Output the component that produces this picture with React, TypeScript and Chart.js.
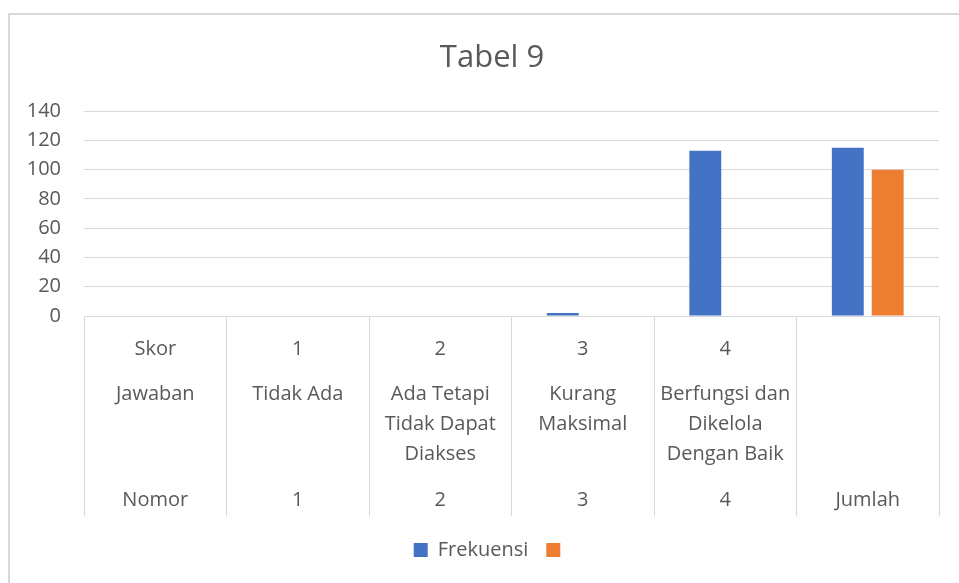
import React, { useEffect, useRef } from "react";
import { Chart, registerables } from "chart.js";

Chart.register(...registerables);

const chartTitle = "Tabel 9";
const skorRow = ["Skor", "1", "2", "3", "4", ""];
const jawabanRow = [
  ["Jawaban"],
  ["Tidak Ada"],
  ["Ada Tetapi", "Tidak Dapat", "Diakses"],
  ["Kurang", "Maksimal"],
  ["Berfungsi dan", "Dikelola", "Dengan Baik"],
  [],
];
const nomorRow = ["Nomor", "1", "2", "3", "4", "Jumlah"];
const frekuensi = [0, 0, 0, 2, 113, 115];
const series2 = [0, 0, 0, 0, 0, 100];
const yTicks = [0, 20, 40, 60, 80, 100, 120, 140];

const FONT = "'Open Sans', sans-serif";
const TEXT = "#595959";
const GRID = "#d9d9d9";

function buildLabel(i: number): string[] {
  // lines on a fixed small line grid: row 0, rows 3/5/7 for wrapped answer, row 10
  const lines: string[] = new Array(11).fill("");
  lines[0] = skorRow[i];
  jawabanRow[i].forEach((t, k) => {
    lines[3 + k * 2] = t;
  });
  lines[10] = nomorRow[i];
  return lines;
}

export default function App() {
  const ref = useRef<HTMLCanvasElement | null>(null);

  useEffect(() => {
    if (!ref.current) return;
    const labels = skorRow.map((_, i) => buildLabel(i));
    const chart = new Chart(ref.current, {
      type: "bar",
      data: {
        labels,
        datasets: [
          {
            label: "Frekuensi",
            data: frekuensi,
            backgroundColor: "#4472C4",
            categoryPercentage: 0.56,
            barPercentage: 0.8,
          },
          {
            label: "",
            data: series2,
            backgroundColor: "#ED7D31",
            categoryPercentage: 0.56,
            barPercentage: 0.8,
          },
        ],
      },
      options: {
        animation: false,
        responsive: false,
        devicePixelRatio: 1,
        layout: { padding: { left: 45, right: 20, top: 0, bottom: 13 } },
        plugins: {
          title: {
            display: true,
            text: chartTitle,
            color: TEXT,
            font: { family: FONT, size: 31, weight: "normal", lineHeight: 1.2 },
            padding: { top: 40, bottom: 34 },
          },
          legend: {
            display: true,
            position: "bottom",
            labels: {
              color: TEXT,
              font: { family: FONT, size: 20 },
              boxWidth: 14,
              boxHeight: 14,
              padding: 18,
            },
          },
          tooltip: { enabled: false },
        },
        scales: {
          x: {
            grid: {
              offset: true,
              drawOnChartArea: false,
              drawTicks: true,
              tickLength: 200,
              color: GRID,
              lineWidth: 1,
            },
            border: { display: true, color: GRID, width: 1 },
            ticks: {
              autoSkip: false,
              maxRotation: 0,
              minRotation: 0,
              color: TEXT,
              padding: -174.5,
              font: { family: FONT, size: 20, lineHeight: "15.1px" },
            },
            afterFit: (scale: any) => {
              scale.height = 206;
            },
          },
          y: {
            min: 0,
            max: 140,
            afterBuildTicks: (scale: any) => {
              scale.ticks = yTicks.map((v) => ({ value: v }));
            },
            grid: { color: GRID, lineWidth: 1, drawTicks: false },
            border: { display: false },
            ticks: {
              color: TEXT,
              padding: 23,
              font: { family: FONT, size: 20 },
            },
            afterFit: (scale: any) => {
              scale.width = 39;
              scale._computeLabelArea = () => undefined;
            },
          },
        },
      },
    });
    return () => chart.destroy();
  }, []);

  return (
    <div
      style={{
        position: "fixed",
        left: 0,
        top: 0,
        width: 959,
        height: 583,
        background: "#ffffff",
        overflow: "hidden",
      }}
    >
      <div
        style={{
          position: "absolute",
          left: 8,
          top: 13,
          width: 960,
          height: 580,
          borderLeft: `2px solid ${GRID}`,
          borderTop: `2px solid ${GRID}`,
          pointerEvents: "none",
        }}
      />
      <canvas
        ref={ref}
        width={959}
        height={583}
        style={{ position: "absolute", left: 0, top: 0, width: 959, height: 583 }}
      />
    </div>
  );
}
